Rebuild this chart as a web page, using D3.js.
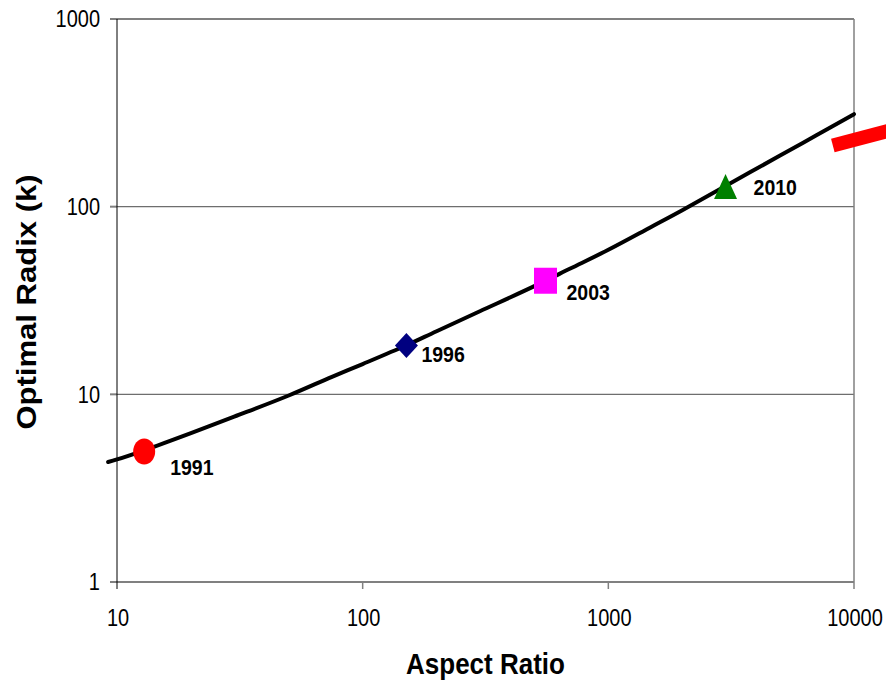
<!DOCTYPE html>
<html>
<head>
<meta charset="utf-8">
<script src="https://cdn.jsdelivr.net/npm/d3@7"></script>
<style>
  body { margin: 0; background: #fff; }
  svg { display: block; overflow: hidden; }
  text { font-family: "Liberation Sans", Arial, Helvetica, sans-serif; fill: #000; }
</style>
</head>
<body>
<svg id="chart" width="886" height="683"></svg>
<script>
// ---- data ----
const xTicks = [10, 100, 1000, 10000];
const yTicks = [1, 10, 100, 1000];
const curveX = [9.2, 10, 13, 20, 30, 50, 75, 100, 150, 200, 300, 500, 700, 1000, 1500, 2000, 3000, 5000, 7000, 10000];
const curveY = [4.36, 4.5, 5.05, 6.21, 7.6, 9.86, 12.4, 14.5, 18.2, 21.7, 27.7, 37.7, 46.8, 58.9, 78.2, 95.7, 128.8, 187.3, 239.4, 311];
const years = ["1991", "1996", "2003", "2010"];
const yearAspect = [12.9, 150.7, 555, 3000];
const yearRadix = [4.96, 18.2, 40.3, 128];
const trendX = [8200, 20000];
const trendY = [212, 288];
const xTitle = "Aspect Ratio";
const yTitle = "Optimal Radix (k)";

// ---- layout / style ----
const L = 117, R = 854, T = 19, B = 582;
const SY = 1.17; // vertical stretch of text in reference
const svg = d3.select("#chart");
const x = d3.scaleLog().domain([10, 10000]).range([L, R]);
const y = d3.scaleLog().domain([1, 1000]).range([B, T]);

// gridlines (horizontal)
svg.append("g").selectAll("line").data(yTicks).join("line")
  .attr("x1", L).attr("x2", R)
  .attr("y1", d => y(d)).attr("y2", d => y(d))
  .attr("stroke", d => (d === 1 || d === 1000) ? "#808080" : "#6e6e6e")
  .attr("stroke-width", d => (d === 1 || d === 1000) ? 2 : 1.3);

// y ticks
svg.append("g").selectAll("line").data(yTicks).join("line")
  .attr("x1", L - 7).attr("x2", L)
  .attr("y1", d => y(d)).attr("y2", d => y(d))
  .attr("stroke", "#808080").attr("stroke-width", 2);

// x ticks
svg.append("g").selectAll("line").data(xTicks.slice(1, 3)).join("line")
  .attr("x1", d => x(d)).attr("x2", d => x(d))
  .attr("y1", B).attr("y2", B + 7)
  .attr("stroke", "#808080").attr("stroke-width", 1.5);

// right border
svg.append("line").attr("x1", x(10000)).attr("x2", x(10000))
  .attr("y1", y(1000)).attr("y2", B + 7)
  .attr("stroke", "#808080").attr("stroke-width", 1.5);

// left axis line
svg.append("line").attr("x1", x(10)).attr("x2", x(10))
  .attr("y1", y(1000)).attr("y2", B + 7)
  .attr("stroke", "#000").attr("stroke-width", 1);

// y tick labels
svg.append("g").selectAll("text").data(yTicks).join("text")
  .attr("transform", d => `translate(${L - 17},${y(d)}) scale(1,${SY})`)
  .attr("dy", "0.36em")
  .attr("text-anchor", "end")
  .style("font-size", "20px")
  .text(d3.format("d"));

// x tick labels
svg.append("g").selectAll("text").data(xTicks).join("text")
  .attr("transform", d => `translate(${x(d) + 1},${B + 44}) scale(1,${SY})`)
  .attr("text-anchor", "middle")
  .style("font-size", "20px")
  .text(d3.format("d"));

// curve
const pts = curveX.map((v, i) => [v, curveY[i]]);
svg.append("path").datum(pts)
  .attr("d", d3.line().x(d => x(d[0])).y(d => y(d[1])).curve(d3.curveCatmullRom.alpha(0.5)))
  .attr("fill", "none").attr("stroke", "#000").attr("stroke-width", 4)
  .attr("stroke-linecap", "round");

// trend segment (red)
const tr = trendX.map((v, i) => [v, trendY[i]]);
svg.append("path").datum(tr)
  .attr("d", d3.line().x(d => x(d[0])).y(d => y(d[1])))
  .attr("fill", "none").attr("stroke", "#ff0000").attr("stroke-width", 14)
  .attr("stroke-linecap", "butt");

// markers
const markerStyle = [
  { shape: "circle", color: "#ff0000", w: 22, h: 26, dx: 26, dy: 23.5 },
  { shape: "diamond", color: "#000080", w: 23, h: 25, dx: 15, dy: 16 },
  { shape: "square", color: "#ff00ff", w: 23, h: 26, dx: 21, dy: 19 },
  { shape: "triangle", color: "#008000", w: 23, h: 25, dx: 28, dy: 8.5 }
];
function shapePath(s) {
  const hw = s.w / 2, hh = s.h / 2;
  const p = d3.path();
  if (s.shape === "diamond") {
    p.moveTo(0, -hh); p.lineTo(hw, 0); p.lineTo(0, hh); p.lineTo(-hw, 0); p.closePath();
  } else if (s.shape === "square") {
    p.rect(-hw, -hh, s.w, s.h);
  } else if (s.shape === "triangle") {
    p.moveTo(0, -hh); p.lineTo(hw, hh); p.lineTo(-hw, hh); p.closePath();
  }
  return p.toString();
}
const mg = svg.append("g");
years.forEach((yr, i) => {
  const s = markerStyle[i];
  const cx = x(yearAspect[i]), cy = y(yearRadix[i]);
  if (s.shape === "circle") {
    mg.append("ellipse").attr("cx", cx).attr("cy", cy)
      .attr("rx", s.w / 2).attr("ry", s.h / 2).attr("fill", s.color);
  } else {
    mg.append("path").attr("transform", `translate(${cx},${cy})`)
      .attr("d", shapePath(s)).attr("fill", s.color);
  }
  mg.append("text")
    .attr("transform", `translate(${cx + s.dx},${cy + s.dy}) scale(1,${SY})`)
    .style("font-size", "19.5px").style("font-weight", "bold")
    .text(yr);
});

// axis titles
svg.append("text")
  .attr("transform", `translate(${(L + R) / 2},674) scale(1,1.1)`)
  .attr("text-anchor", "middle")
  .style("font-size", "26px").style("font-weight", "bold")
  .text(xTitle);

svg.append("text")
  .attr("transform", `translate(36,302) scale(1,1.15) rotate(-90)`)
  .attr("text-anchor", "middle")
  .style("font-size", "27px").style("font-weight", "bold")
  .text(yTitle);
</script>
</body>
</html>
